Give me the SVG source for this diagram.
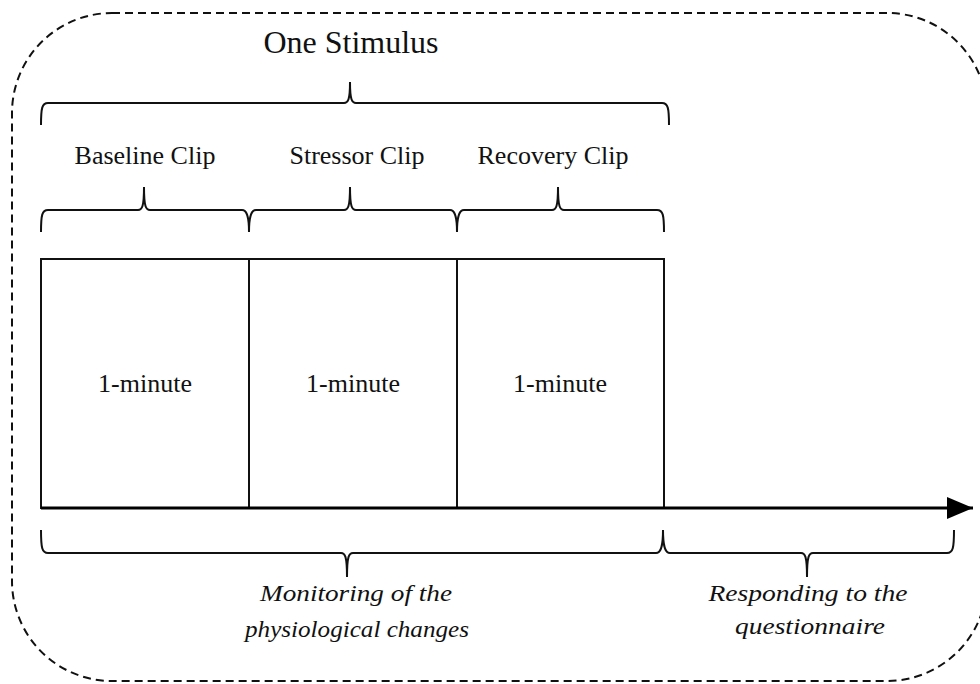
<svg xmlns="http://www.w3.org/2000/svg" width="980" height="684" viewBox="0 0 980 684">
<style>
.lbl{font-family:"Liberation Serif","Times New Roman",serif;font-size:26px;fill:#111;text-anchor:middle}
.it{font-family:"Liberation Serif","Times New Roman",serif;font-size:24px;font-style:italic;fill:#111;text-anchor:middle}
.brace{fill:none;stroke:#111;stroke-width:2}
.box{fill:#fff;stroke:#111;stroke-width:2}
</style>
<defs>
<marker id="ah" markerUnits="userSpaceOnUse" markerWidth="28" markerHeight="24" refX="26" refY="11" orient="auto">
<path d="M0,0 L26,11 L0,22 Z" fill="#000"/>
</marker>
</defs>
<rect id="frame" x="12" y="13" width="975" height="668" rx="100" ry="100" fill="none" stroke="#111" stroke-width="2" stroke-dasharray="8,5"/>
<g id="stimulus">
<text class="lbl" x="351" y="53" style="font-size:32px">One Stimulus</text>
<path class="brace" d="M41,125 C41,108 42,103 48,103 L344,103 C348,103 350,100 350,82 C350,100 352,103 356,103 L662,103 C668,103 669,108 669,125"/>
</g>
<g id="baseline">
<text class="lbl" x="145" y="164">Baseline Clip</text>
<path class="brace" d="M41,232 C41,215 42,210 48,210 L138,210 C142,210 144,207 144,187 C144,207 146,210 150,210 L242,210 C246,210 249,214 249,232"/>
<rect class="box" x="41" y="259" width="208" height="249"/>
<text class="lbl" x="145" y="392">1-minute</text>
</g>
<g id="stressor">
<text class="lbl" x="357" y="164">Stressor Clip</text>
<path class="brace" d="M249,232 C249,214 252,210 256,210 L344,210 C348,210 350,207 350,187 C350,207 352,210 356,210 L450,210 C454,210 457,214 457,232"/>
<rect class="box" x="249" y="259" width="208" height="249"/>
<text class="lbl" x="353" y="392">1-minute</text>
</g>
<g id="recovery">
<text class="lbl" x="553" y="164">Recovery Clip</text>
<path class="brace" d="M457,232 C457,214 460,210 464,210 L552,210 C556,210 558,207 558,187 C558,207 560,210 564,210 L657,210 C663,210 664,215 664,232"/>
<rect class="box" x="457" y="259" width="207" height="249"/>
<text class="lbl" x="560" y="392">1-minute</text>
</g>
<g id="connectors">
<line x1="41" y1="508" x2="973" y2="508" stroke="#000" stroke-width="3" marker-end="url(#ah)"/>
</g>
<g id="monitoring">
<path class="brace" d="M41,530 C41,548 42,553 48,553 L341,553 C345,553 347,556 347,577 C347,556 349,553 353,553 L656,553 C660,553 663,549 663,530"/>
<text class="it" x="356" y="601" textLength="192" lengthAdjust="spacingAndGlyphs">Monitoring of the</text>
<text class="it" x="357" y="637" textLength="224" lengthAdjust="spacingAndGlyphs">physiological changes</text>
</g>
<g id="responding">
<path class="brace" d="M663,530 C663,549 666,553 670,553 L801,553 C805,553 807,556 807,577 C807,556 809,553 813,553 L947,553 C953,553 954,548 954,530"/>
<text class="it" x="808" y="601" textLength="199" lengthAdjust="spacingAndGlyphs">Responding to the</text>
<text class="it" x="810" y="634" textLength="150" lengthAdjust="spacingAndGlyphs">questionnaire</text>
</g>
</svg>
